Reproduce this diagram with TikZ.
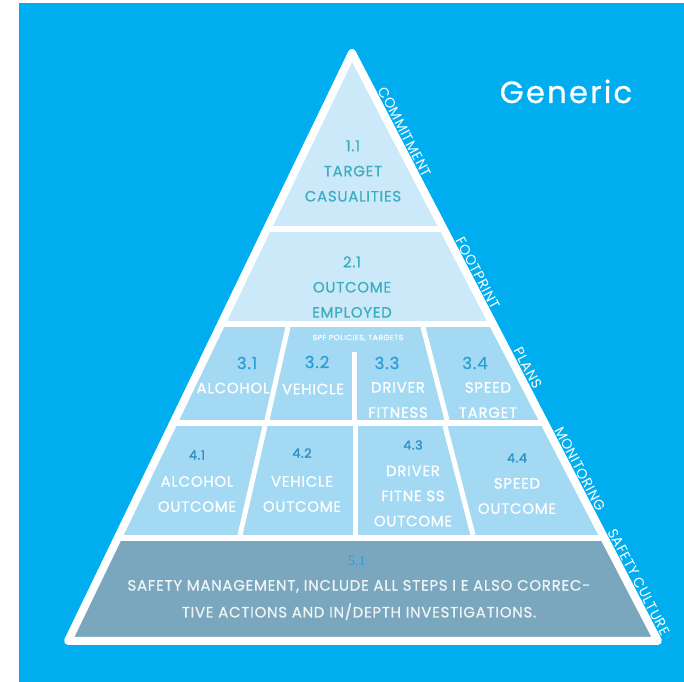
\documentclass[tikz,border=0pt]{standalone}
\usepackage{fontspec}
\setmainfont{Poppins}
\newfontfamily\genfont[LetterSpace=7, FakeBold=0.6]{Poppins}
\newfontfamily\lblfont[LetterSpace=5, FakeBold=0.8]{Poppins}
\newfontfamily\sidefont[LetterSpace=4]{Poppins}
\newfontfamily\numfont{Liberation Serif}
\usetikzlibrary{positioning}
\definecolor{skyblue}{HTML}{00AEEF}
\definecolor{paleband}{HTML}{CBE9F8}
\definecolor{midband}{HTML}{A3D9F3}
\definecolor{baseband}{HTML}{7BA7BE}
\definecolor{tealtext}{HTML}{3DAEC0}
\definecolor{numblue}{HTML}{2B9ED6}
\definecolor{basetext}{HTML}{EEF4F6}
\tikzset{
  toplbl/.style={text=tealtext, align=center, inner sep=0pt, font=\lblfont\fontsize{8.5}{14.3}\selectfont},
  celllbl/.style={text=white, align=center, inner sep=0pt, font=\lblfont\fontsize{8.5}{14.3}\selectfont},
  cellnum/.style={text=numblue, inner sep=0pt, font=\lblfont\fontsize{9.5}{10}\selectfont},
  smallnum/.style={text=numblue!90!black, inner sep=0pt, font=\lblfont\fontsize{7.2}{8}\selectfont},
  sidelbl/.style={text=white, rotate=-62.5, inner sep=0pt, font=\sidefont\fontsize{8}{9}\selectfont},
  gapline/.style={draw=white, line width=0.12cm},
  cellline/.style={draw=white, line width=0.1cm}
}
\begin{document}
\begin{tikzpicture}[x=0.02cm, y=-0.02cm]
  \useasboundingbox (0,0) rectangle (684,682);
  \fill[white] (0,0) rectangle (684,682);
  \fill[skyblue] (19,3) rectangle (684,682);
  \coordinate (apex) at (352,53);
  \coordinate (bl) at (68,641);
  \coordinate (br) at (658,641);

  % bands of the pyramid
  \begin{scope}
    \clip (apex) -- (bl) -- (br) -- cycle;
    \fill[paleband] (0,0) rectangle (684,324);
    \fill[midband] (0,324) rectangle (684,538);
    \fill[baseband] (0,538) rectangle (684,682);
    \draw[gapline] (0,229) -- (684,229);
    \draw[gapline] (0,324) -- (684,324);
    \draw[gapline] (0,423) -- (684,423);
    \draw[gapline] (0,538) -- (684,538);
    \draw[cellline] (288,327) -- (267,420);
    \draw[cellline] (354,352) -- (354,421);
    \draw[cellline] (423,327) -- (447,420);
    \draw[cellline] (265,426) -- (240,535);
    \draw[cellline] (355,426) -- (355,535);
    \draw[cellline] (445,426) -- (473,535);
  \end{scope}
  \draw[white, line width=0.16cm, line join=round] (apex) -- (bl) -- (br) -- cycle;

  \node[text=white, anchor=base, font=\genfont\fontsize{17.5}{20}\selectfont] (title) at (566,103) {Generic};

  % level 1 and 2
  \node[toplbl] (target) at (353,171) {1.1\\TARGET\\CASUALITIES};
  \node[toplbl] (outcome) at (352,287) {2.1\\OUTCOME\\EMPLOYED};

  % level 3
  \node[text=white, inner sep=0pt, font=\lblfont\fontsize{4.4}{5}\selectfont] (spf) at (358,338) {SPF POLICIES, TARGETS};
  \node[cellnum] (n31) at (247,363) {3.1};
  \node[cellnum] (n32) at (317,362) {3.2};
  \node[cellnum] (n33) at (387,363) {3.3};
  \node[cellnum] (n34) at (475,363) {3.4};
  \node[celllbl] (alcohol) at (233,388) {ALCOHOL};
  \node[celllbl] (vehicle) at (313,389) {VEHICLE};
  \node[celllbl] (fitness) at (398,400) {DRIVER\\FITNESS};
  \node[celllbl] (speed) at (488,400) {SPEED\\TARGET};

  % level 4
  \node[smallnum] (n41) at (197,455) {4.1};
  \node[smallnum] (n42) at (302,453) {4.2};
  \node[smallnum] (n43) at (413,445) {4.3};
  \node[smallnum] (n44) at (517,458) {4.4};
  \node[celllbl] (alcoholout) at (197,494) {ALCOHOL\\OUTCOME};
  \node[celllbl] (vehicleout) at (302,494) {VEHICLE\\OUTCOME};
  \node[celllbl] (fitnessout) at (413,496) {DRIVER\\FITNE SS\\OUTCOME};
  \node[celllbl] (speedout) at (517,496) {SPEED\\OUTCOME};

  % level 5
  \node[text=numblue, inner sep=0pt, font=\numfont\fontsize{8}{9}\selectfont] (n51) at (357,561) {5.1};
  \node[text=basetext, align=center, inner sep=0pt, font=\lblfont\fontsize{8.5}{15.3}\selectfont] (safety) at (359,600)
    {SAFETY MANAGEMENT, INCLUDE ALL STEPS I E ALSO CORREC-\\TIVE ACTIONS AND IN/DEPTH INVESTIGATIONS.};

  % words along the right side
  \node[sidelbl] (commit) at (405,132) {COMMITMENT};
  \node[sidelbl] (footprint) at (478,273) {FOOTPRINT};
  \node[sidelbl] (plans) at (528,368) {PLANS};
  \node[sidelbl] (monitor) at (580,469) {MONITORING};
  \node[sidelbl] (culture) at (639,582) {SAFETY CULTURE};
\end{tikzpicture}
\end{document}
